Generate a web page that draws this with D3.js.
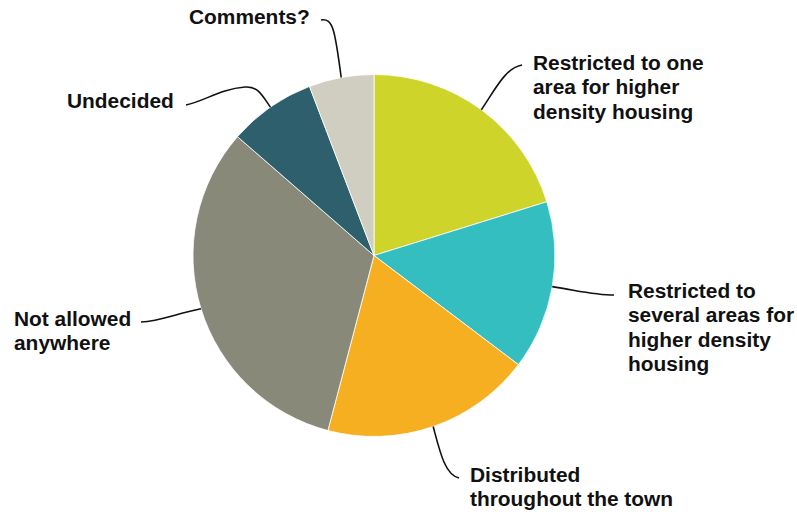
<!DOCTYPE html>
<html>
<head>
<meta charset="utf-8">
<script src="https://cdn.jsdelivr.net/npm/d3@7"></script>
<style>
  html, body { margin: 0; padding: 0; background: #fff; }
  svg { display: block; }
</style>
</head>
<body>
<svg id="chart" width="797" height="512"></svg>
<script>
// Data
const categories = [
  "Restricted to one area for higher density housing",
  "Restricted to several areas for higher density housing",
  "Distributed throughout the town",
  "Not allowed anywhere",
  "Undecided",
  "Comments?"
];
const values = [20.2, 15.1, 18.8, 32.3, 7.8, 5.8];
const labelLines = [
  ["Restricted to one", "area for higher", "density housing"],
  ["Restricted to", "several areas for", "higher density", "housing"],
  ["Distributed", "throughout the town"],
  ["Not allowed", "anywhere"],
  ["Undecided"],
  ["Comments?"]
];
const colors = ["#CFD42A", "#35BEC0", "#F6AF20", "#888979", "#2E5F6D", "#D0CEC0"];

// Layout
const cx = 374, cy = 255.5, r = 181;
const labelPos = [
  {x: 533, y: 70},
  {x: 628, y: 298},
  {x: 470, y: 481.5},
  {x: 14,  y: 326},
  {x: 67,  y: 108},
  {x: 189, y: 24}
];
const leaders = [
  {c1: [495, 90],  c2: [505, 68],  end: [522, 65]},
  {c1: [580, 291], c2: [595, 295], end: [614, 295]},
  {c1: [440, 452], c2: [445, 475], end: [459, 478]},
  {c1: [175, 314], c2: [160, 321], end: [141, 322]},
  null,
  {c1: [335, 30],  c2: [333, 18],  end: [321, 20]}
];

const svg = d3.select("#chart");
const g = svg.append("g").attr("transform", `translate(${cx},${cy})`);

const pie = d3.pie().sort(null).value(d => d);
const arcs = pie(values);
const arc = d3.arc().innerRadius(0).outerRadius(r);

g.selectAll("path.slice")
  .data(arcs)
  .join("path")
  .attr("class", "slice")
  .attr("d", arc)
  .attr("fill", (d, i) => colors[i])
  .attr("stroke", "#fff")
  .attr("stroke-width", 0.8);

arcs.forEach((a, i) => {
  const mid = (a.startAngle + a.endAngle) / 2;
  const sx = cx + r * Math.sin(mid);
  const sy = cy - r * Math.cos(mid);
  const p = d3.path();
  p.moveTo(sx, sy);
  if (i === 4) {
    p.bezierCurveTo(262, 95, 258, 86, 245, 87);
    p.bezierCurveTo(220, 89, 205, 101, 186, 105);
  } else {
    const L = leaders[i];
    p.bezierCurveTo(L.c1[0], L.c1[1], L.c2[0], L.c2[1], L.end[0], L.end[1]);
  }
  svg.append("path")
    .attr("d", p.toString())
    .attr("fill", "none")
    .attr("stroke", "#111")
    .attr("stroke-width", 1.6);
});

labelLines.forEach((lines, i) => {
  const lp = labelPos[i];
  const t = svg.append("text")
    .attr("x", lp.x).attr("y", lp.y)
    .attr("font-family", "Arial, 'Liberation Sans', Helvetica, sans-serif")
    .attr("font-weight", "bold")
    .attr("font-size", 20.9)
    .attr("fill", "#111");
  lines.forEach((ln, j) => {
    t.append("tspan").attr("x", lp.x).attr("y", lp.y + j * 24.3).text(ln);
  });
});
</script>
</body>
</html>
